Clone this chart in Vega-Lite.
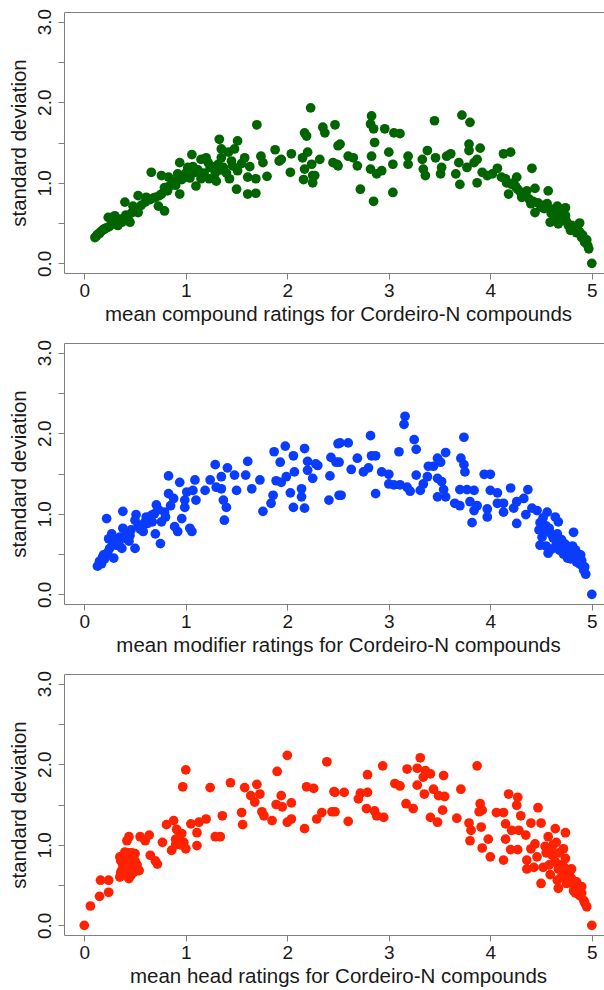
{
  "$schema": "https://vega.github.io/schema/vega-lite/v6.json",
  "padding": {"top": 8, "left": 8, "right": 0, "bottom": 5},
  "spacing": 70,
  "bounds": "flush",
  "config": {
    "view": {"stroke": null},
    "font": "Liberation Sans",
    "axis": {"grid": false, "domainColor": "#808080", "tickColor": "#808080", "tickSize": 6, "labelFontSize": 19, "titleFontSize": 20.5, "titleFontWeight": "normal", "labelColor": "#1a1a1a", "titleColor": "#1a1a1a", "labelFont": "Liberation Sans", "titleFont": "Liberation Sans"}
  },
  "datasets": {
    "p1": [
      {"m":0.105,"s":0.32},{"m":0.13,"s":0.36},{"m":0.16,"s":0.39},{"m":0.19,"s":0.42},{"m":0.22,"s":0.44},{"m":0.236,"s":0.57},{"m":0.30,"s":0.59},{"m":0.37,"s":0.51},{"m":0.45,"s":0.51},{"m":0.33,"s":0.47},{"m":0.27,"s":0.49},{"m":0.40,"s":0.76},{"m":0.48,"s":0.71},{"m":0.53,"s":0.84},{"m":0.53,"s":0.63},{"m":0.61,"s":0.82},{"m":0.70,"s":0.82},{"m":0.73,"s":0.71},{"m":0.79,"s":0.65},{"m":0.76,"s":0.86},{"m":0.66,"s":1.13},{"m":0.76,"s":1.09},{"m":0.83,"s":1.07},{"m":0.79,"s":0.94},{"m":0.94,"s":0.86},{"m":0.88,"s":1.02},{"m":0.94,"s":1.25},{"m":0.92,"s":1.11},{"m":0.99,"s":1.07},{"m":1.06,"s":1.35},{"m":1.02,"s":1.19},{"m":1.09,"s":1.13},{"m":1.10,"s":0.96},{"m":1.15,"s":1.29},{"m":1.20,"s":1.31},{"m":1.23,"s":1.05},{"m":1.24,"s":1.19},{"m":1.30,"s":1.02},{"m":1.32,"s":1.23},{"m":1.37,"s":1.19},{"m":1.35,"s":1.31},{"m":1.33,"s":1.54},{"m":1.35,"s":1.42},{"m":1.42,"s":1.38},{"m":1.45,"s":1.27},{"m":1.51,"s":1.52},{"m":1.48,"s":1.42},{"m":1.43,"s":1.05},{"m":1.50,"s":0.92},{"m":1.51,"s":1.15},{"m":1.58,"s":1.31},{"m":1.61,"s":1.07},{"m":1.69,"s":1.05},{"m":1.61,"s":0.86},{"m":1.69,"s":0.87},{"m":1.70,"s":1.72},{"m":1.74,"s":1.33},{"m":1.76,"s":1.25},{"m":1.80,"s":1.08},{"m":1.88,"s":1.41},{"m":1.94,"s":1.29},{"m":1.92,"s":1.27},{"m":2.04,"s":1.36},{"m":2.03,"s":1.13},{"m":2.15,"s":1.31},{"m":2.17,"s":1.62},{"m":2.19,"s":1.58},{"m":2.23,"s":1.93},{"m":2.20,"s":1.38},{"m":2.24,"s":1.23},{"m":2.17,"s":1.17},{"m":2.25,"s":1.09},{"m":2.16,"s":1.04},{"m":2.25,"s":1.00},{"m":2.27,"s":1.09},{"m":2.32,"s":1.29},{"m":2.35,"s":1.69},{"m":2.37,"s":1.62},{"m":2.47,"s":1.72},{"m":2.45,"s":1.25},{"m":2.50,"s":1.46},{"m":2.50,"s":1.21},
      {"m":0.12,"s":0.34},{"m":0.15,"s":0.37},{"m":0.18,"s":0.41},{"m":0.2,"s":0.43},{"m":0.25,"s":0.46},{"m":0.28,"s":0.5},{"m":0.31,"s":0.53},{"m":0.35,"s":0.55},{"m":0.41,"s":0.6},{"m":0.43,"s":0.56},{"m":0.47,"s":0.63},{"m":0.56,"s":0.72},{"m":0.6,"s":0.76},{"m":0.64,"s":0.79},{"m":0.68,"s":0.81},{"m":0.74,"s":0.84},{"m":0.84,"s":0.96},{"m":0.87,"s":1.0},{"m":0.96,"s":1.04},{"m":1.0,"s":1.12},{"m":1.04,"s":1.06},{"m":1.12,"s":1.16},{"m":1.18,"s":1.12},{"m":1.26,"s":1.2},{"m":1.29,"s":1.12},{"m":1.34,"s":1.16},{"m":1.4,"s":1.12},{"m":1.46,"s":1.21},{"m":1.55,"s":1.24},{"m":1.63,"s":1.2},{"m":0.82,"s":0.9},{"m":0.9,"s":0.97},{"m":1.07,"s":1.2},{"m":1.15,"s":1.05},{"m":1.22,"s":1.25},
      {"m":2.52,"s":1.48},{"m":2.49,"s":1.23},{"m":2.60,"s":1.33},{"m":2.65,"s":1.31},{"m":2.69,"s":1.21},{"m":2.72,"s":0.92},{"m":2.83,"s":1.83},{"m":2.82,"s":1.73},{"m":2.85,"s":1.67},{"m":2.86,"s":1.50},{"m":2.83,"s":1.33},{"m":2.82,"s":1.17},{"m":2.88,"s":1.11},{"m":2.93,"s":1.15},{"m":2.85,"s":0.77},{"m":2.96,"s":1.67},{"m":3.05,"s":1.62},{"m":3.11,"s":1.61},{"m":3.00,"s":1.38},{"m":3.04,"s":1.23},{"m":3.04,"s":0.88},{"m":3.19,"s":1.33},{"m":3.19,"s":1.23},{"m":3.33,"s":1.29},{"m":3.34,"s":1.17},{"m":3.36,"s":1.09},{"m":3.38,"s":1.40},{"m":3.45,"s":1.77},{"m":3.46,"s":1.31},{"m":3.51,"s":1.11},{"m":3.52,"s":1.19},{"m":3.57,"s":1.33},{"m":3.61,"s":1.36},{"m":3.66,"s":1.11},{"m":3.69,"s":1.25},{"m":3.70,"s":0.98},{"m":3.72,"s":1.84},{"m":3.80,"s":1.75},{"m":3.79,"s":1.48},{"m":3.79,"s":1.40},{"m":3.77,"s":1.19},{"m":3.84,"s":1.25},{"m":3.87,"s":1.29},{"m":3.90,"s":1.43},{"m":3.87,"s":1.00},{"m":3.92,"s":1.13},{"m":3.97,"s":1.09},{"m":4.02,"s":1.11},{"m":4.07,"s":1.18},{"m":4.13,"s":1.36},{"m":4.20,"s":1.38},{"m":4.11,"s":1.07},{"m":4.16,"s":1.00},{"m":4.18,"s":0.86},{"m":4.21,"s":0.98},{"m":4.26,"s":1.07},{"m":4.27,"s":0.92},{"m":4.31,"s":0.82},{"m":4.36,"s":0.90},{"m":4.41,"s":1.18},{"m":4.44,"s":0.93},{"m":4.40,"s":0.74},{"m":4.44,"s":0.63},{"m":4.57,"s":0.90},{"m":4.56,"s":0.74},{"m":4.61,"s":0.67},{"m":4.66,"s":0.71},{"m":4.74,"s":0.69},{"m":4.59,"s":0.51},{"m":4.67,"s":0.49},{"m":4.74,"s":0.59},{"m":4.77,"s":0.47},{"m":4.82,"s":0.43},{"m":4.88,"s":0.50},{"m":4.85,"s":0.38},{"m":4.90,"s":0.32},{"m":4.93,"s":0.26},{"m":4.97,"s":0.18},{"m":5.00,"s":0.00},
      {"m":4.15,"s":1.05},{"m":4.23,"s":1.0},{"m":4.25,"s":0.95},{"m":4.3,"s":0.88},{"m":4.33,"s":0.85},{"m":4.38,"s":0.8},{"m":4.42,"s":0.77},{"m":4.47,"s":0.75},{"m":4.5,"s":0.7},{"m":4.53,"s":0.68},{"m":4.6,"s":0.62},{"m":4.63,"s":0.6},{"m":4.68,"s":0.58},{"m":4.71,"s":0.55},{"m":4.75,"s":0.52},{"m":4.8,"s":0.47},{"m":4.83,"s":0.46},{"m":4.86,"s":0.42},{"m":4.88,"s":0.39},{"m":4.91,"s":0.35},{"m":4.95,"s":0.29},{"m":4.96,"s":0.22},{"m":4.7,"s":0.62},{"m":4.64,"s":0.55},{"m":4.52,"s":0.72},{"m":4.79,"s":0.41}
    ],
    "p2": [
      {"m":0.13,"s":0.35},{"m":0.17,"s":0.38},{"m":0.20,"s":0.44},{"m":0.19,"s":0.49},{"m":0.29,"s":0.45},{"m":0.22,"s":0.94},{"m":0.24,"s":0.69},{"m":0.27,"s":0.75},{"m":0.25,"s":0.57},{"m":0.32,"s":0.61},{"m":0.37,"s":0.57},{"m":0.38,"s":0.82},{"m":0.42,"s":0.69},{"m":0.45,"s":0.73},{"m":0.50,"s":0.57},{"m":0.38,"s":1.03},{"m":0.51,"s":0.99},{"m":0.50,"s":0.92},{"m":0.56,"s":0.86},{"m":0.58,"s":0.78},{"m":0.61,"s":0.96},{"m":0.66,"s":0.98},{"m":0.71,"s":1.11},{"m":0.70,"s":0.75},{"m":0.76,"s":0.90},{"m":0.75,"s":0.63},{"m":0.79,"s":1.02},{"m":0.83,"s":1.25},{"m":0.83,"s":1.47},{"m":0.88,"s":1.19},{"m":0.89,"s":0.84},{"m":0.92,"s":0.78},{"m":0.94,"s":1.39},{"m":0.96,"s":0.94},{"m":0.99,"s":1.08},{"m":0.99,"s":1.17},{"m":1.04,"s":0.82},{"m":1.06,"s":0.78},{"m":1.01,"s":1.27},{"m":1.07,"s":1.29},{"m":1.09,"s":1.42},{"m":1.10,"s":1.17},{"m":1.19,"s":1.29},{"m":1.24,"s":1.42},{"m":1.29,"s":1.61},{"m":1.30,"s":1.33},{"m":1.35,"s":1.46},{"m":1.35,"s":1.31},{"m":1.37,"s":1.17},{"m":1.40,"s":1.08},{"m":1.38,"s":0.92},{"m":1.41,"s":1.57},{"m":1.48,"s":1.48},{"m":1.50,"s":1.29},{"m":1.59,"s":1.48},{"m":1.61,"s":1.65},{"m":1.65,"s":1.31},{"m":1.73,"s":1.42},{"m":1.76,"s":1.03},{"m":1.84,"s":1.13},{"m":1.86,"s":1.23},{"m":1.87,"s":1.77},{"m":1.93,"s":1.64},{"m":1.89,"s":1.41},{"m":1.94,"s":1.39},{"m":1.98,"s":1.84},{"m":1.99,"s":1.46},{"m":2.06,"s":1.72},{"m":2.07,"s":1.52},{"m":2.03,"s":1.26},{"m":2.06,"s":1.08},{"m":2.14,"s":1.31},{"m":2.14,"s":1.21},{"m":2.17,"s":1.07},{"m":2.17,"s":1.81},{"m":2.20,"s":1.65},{"m":2.20,"s":1.54},{"m":2.25,"s":1.44},{"m":2.30,"s":1.60},{"m":2.28,"s":1.62},{"m":2.41,"s":1.17},{"m":2.42,"s":1.47},{"m":2.43,"s":1.70},{"m":2.50,"s":1.87},{"m":2.48,"s":1.64},{"m":2.51,"s":1.23},
      {"m":0.15,"s":0.41},{"m":0.18,"s":0.46},{"m":0.23,"s":0.52},{"m":0.28,"s":0.62},{"m":0.31,"s":0.66},{"m":0.35,"s":0.71},{"m":0.41,"s":0.76},{"m":0.46,"s":0.8},{"m":0.53,"s":0.85},{"m":0.55,"s":0.81},{"m":0.6,"s":0.9},{"m":0.64,"s":0.94},{"m":0.69,"s":1.0},{"m":0.73,"s":1.05},{"m":0.8,"s":0.96},{"m":0.85,"s":1.1},{"m":0.34,"s":0.64},{"m":0.44,"s":0.66},{"m":0.62,"s":0.88},{"m":0.67,"s":0.9},
      {"m":2.51,"s":1.64},{"m":2.52,"s":1.88},{"m":2.60,"s":1.88},{"m":2.53,"s":1.23},{"m":2.63,"s":1.55},{"m":2.69,"s":1.69},{"m":2.75,"s":1.52},{"m":2.80,"s":1.57},{"m":2.82,"s":1.97},{"m":2.83,"s":1.72},{"m":2.87,"s":1.72},{"m":2.87,"s":1.25},{"m":2.93,"s":1.52},{"m":3.00,"s":1.49},{"m":3.00,"s":1.37},{"m":3.05,"s":1.36},{"m":3.10,"s":1.77},{"m":3.11,"s":1.36},{"m":3.16,"s":2.21},{"m":3.15,"s":2.11},{"m":3.18,"s":1.33},{"m":3.21,"s":1.28},{"m":3.25,"s":1.92},{"m":3.27,"s":1.80},{"m":3.27,"s":1.48},{"m":3.31,"s":1.29},{"m":3.34,"s":1.37},{"m":3.38,"s":1.46},{"m":3.39,"s":1.59},{"m":3.44,"s":1.59},{"m":3.48,"s":1.69},{"m":3.51,"s":1.64},{"m":3.48,"s":1.44},{"m":3.52,"s":1.40},{"m":3.56,"s":1.76},{"m":3.54,"s":1.30},{"m":3.48,"s":1.21},{"m":3.56,"s":1.21},{"m":3.65,"s":1.13},{"m":3.70,"s":1.10},{"m":3.70,"s":1.30},{"m":3.71,"s":1.69},{"m":3.74,"s":1.95},{"m":3.74,"s":1.61},{"m":3.75,"s":1.52},{"m":3.77,"s":1.30},{"m":3.84,"s":1.29},{"m":3.80,"s":1.15},{"m":3.84,"s":1.04},{"m":3.87,"s":1.10},{"m":3.82,"s":0.89},{"m":3.94,"s":1.49},{"m":4.00,"s":1.49},{"m":3.97,"s":1.06},{"m":3.97,"s":0.96},{"m":4.00,"s":1.29},{"m":4.07,"s":1.26},{"m":4.07,"s":1.13},{"m":4.13,"s":1.02},{"m":4.13,"s":1.13},{"m":4.20,"s":1.32},{"m":4.23,"s":1.07},{"m":4.26,"s":1.15},{"m":4.26,"s":0.88},{"m":4.33,"s":1.19},{"m":4.37,"s":1.30},{"m":4.35,"s":0.99},{"m":4.41,"s":1.07},{"m":4.46,"s":1.04},{"m":4.49,"s":0.89},{"m":4.48,"s":0.80},{"m":4.51,"s":0.71},{"m":4.49,"s":0.61},{"m":4.56,"s":1.02},{"m":4.58,"s":0.82},{"m":4.57,"s":0.51},{"m":4.64,"s":0.96},{"m":4.67,"s":0.90},{"m":4.66,"s":0.75},{"m":4.71,"s":0.65},{"m":4.68,"s":0.55},{"m":4.77,"s":0.55},{"m":4.82,"s":0.77},{"m":4.84,"s":0.49},{"m":4.89,"s":0.49},{"m":4.79,"s":0.44},{"m":4.85,"s":0.40},{"m":4.90,"s":0.36},{"m":4.92,"s":0.30},{"m":4.94,"s":0.25},{"m":5.00,"s":0.00},
      {"m":4.55,"s":0.6},{"m":4.6,"s":0.56},{"m":4.62,"s":0.7},{"m":4.65,"s":0.62},{"m":4.7,"s":0.58},{"m":4.72,"s":0.5},{"m":4.75,"s":0.6},{"m":4.78,"s":0.48},{"m":4.8,"s":0.55},{"m":4.82,"s":0.45},{"m":4.86,"s":0.5},{"m":4.87,"s":0.44},{"m":4.9,"s":0.42},{"m":4.88,"s":0.38},{"m":4.93,"s":0.34},{"m":4.7,"s":0.68},{"m":4.6,"s":0.75},{"m":4.55,"s":0.85},{"m":4.52,"s":0.95},{"m":4.74,"s":0.62},{"m":4.81,"s":0.6},{"m":4.84,"s":0.55},{"m":4.66,"s":0.65},{"m":4.53,"s":0.78},{"m":4.76,"s":0.45}
    ],
    "p3": [
      {"m":0,"s":0},{"m":0.06,"s":0.24},{"m":0.15,"s":0.36},{"m":0.16,"s":0.56},{"m":0.24,"s":0.56},{"m":0.24,"s":0.41},{"m":0.35,"s":0.85},{"m":0.37,"s":0.68},{"m":0.35,"s":0.60},{"m":0.40,"s":0.91},{"m":0.42,"s":1.05},{"m":0.44,"s":1.10},{"m":0.39,"s":0.72},{"m":0.44,"s":0.58},{"m":0.45,"s":0.76},{"m":0.49,"s":0.66},{"m":0.50,"s":0.89},{"m":0.54,"s":0.68},{"m":0.55,"s":1.10},{"m":0.60,"s":1.05},{"m":0.64,"s":1.12},{"m":0.65,"s":0.87},{"m":0.72,"s":0.76},{"m":0.70,"s":0.80},{"m":0.77,"s":1.03},{"m":0.81,"s":1.25},{"m":0.88,"s":1.30},{"m":0.86,"s":0.93},{"m":0.90,"s":1.07},{"m":0.91,"s":1.19},{"m":0.96,"s":1.14},{"m":0.98,"s":1.03},{"m":1.00,"s":0.95},{"m":0.97,"s":1.72},{"m":1.00,"s":1.93},{"m":1.05,"s":1.26},{"m":1.11,"s":1.15},{"m":1.11,"s":0.99},{"m":1.13,"s":1.28},{"m":1.20,"s":1.32},{"m":1.24,"s":1.71},{"m":1.29,"s":1.10},{"m":1.34,"s":1.10},{"m":1.36,"s":1.36},{"m":1.44,"s":1.77},{"m":1.55,"s":1.40},{"m":1.56,"s":1.25},{"m":1.58,"s":1.71},{"m":1.64,"s":1.61},{"m":1.70,"s":1.75},{"m":1.73,"s":1.63},{"m":1.68,"s":1.53},{"m":1.75,"s":1.41},{"m":1.77,"s":1.36},{"m":1.85,"s":1.30},{"m":1.90,"s":1.91},{"m":1.89,"s":1.50},{"m":1.94,"s":1.61},{"m":1.95,"s":1.47},{"m":2.00,"s":2.11},{"m":2.04,"s":1.52},{"m":2.00,"s":1.28},{"m":2.04,"s":1.32},{"m":2.17,"s":1.20},{"m":2.19,"s":1.72},{"m":2.26,"s":1.70},{"m":2.29,"s":1.32},{"m":2.34,"s":1.40},{"m":2.39,"s":2.03},{"m":2.44,"s":1.41},{"m":2.46,"s":1.66},
      {"m":0.36,"s":0.8},{"m":0.38,"s":0.75},{"m":0.4,"s":0.7},{"m":0.42,"s":0.65},{"m":0.41,"s":0.8},{"m":0.43,"s":0.85},{"m":0.45,"s":0.7},{"m":0.46,"s":0.62},{"m":0.47,"s":0.78},{"m":0.48,"s":0.72},{"m":0.38,"s":0.64},{"m":0.36,"s":0.66},{"m":0.5,"s":0.8},{"m":0.52,"s":0.75},{"m":0.44,"s":0.9},{"m":0.47,"s":0.9},{"m":0.43,"s":0.6},{"m":0.9,"s":1.0},{"m":0.95,"s":1.0},{"m":0.93,"s":1.08},
      {"m":2.47,"s":1.65},{"m":2.56,"s":1.65},{"m":2.47,"s":1.41},{"m":2.60,"s":1.29},{"m":2.72,"s":1.64},{"m":2.79,"s":1.65},{"m":2.70,"s":1.57},{"m":2.79,"s":1.87},{"m":2.78,"s":1.45},{"m":2.86,"s":1.42},{"m":2.94,"s":1.98},{"m":2.88,"s":1.36},{"m":2.95,"s":1.34},{"m":3.06,"s":1.76},{"m":3.11,"s":1.73},{"m":3.18,"s":1.94},{"m":3.17,"s":1.51},{"m":3.24,"s":1.45},{"m":3.28,"s":1.95},{"m":3.31,"s":2.08},{"m":3.36,"s":1.92},{"m":3.41,"s":1.88},{"m":3.34,"s":1.84},{"m":3.28,"s":1.74},{"m":3.35,"s":1.63},{"m":3.44,"s":1.69},{"m":3.54,"s":1.86},{"m":3.49,"s":1.61},{"m":3.55,"s":1.60},{"m":3.53,"s":1.43},{"m":3.41,"s":1.34},{"m":3.48,"s":1.28},{"m":3.67,"s":1.33},{"m":3.71,"s":1.69},{"m":3.87,"s":1.98},{"m":3.79,"s":1.27},{"m":3.81,"s":1.18},{"m":3.80,"s":1.05},{"m":3.90,"s":1.51},{"m":3.92,"s":1.43},{"m":3.89,"s":1.41},{"m":3.91,"s":1.22},{"m":3.92,"s":0.96},{"m":3.98,"s":1.07},{"m":4.00,"s":0.85},{"m":4.06,"s":1.40},{"m":4.13,"s":1.40},{"m":4.18,"s":1.63},{"m":4.27,"s":1.59},{"m":4.26,"s":1.49},{"m":4.15,"s":1.26},{"m":4.21,"s":1.18},{"m":4.15,"s":1.07},{"m":4.20,"s":0.94},{"m":4.13,"s":0.81},{"m":4.27,"s":0.94},{"m":4.30,"s":1.36},{"m":4.28,"s":1.18},{"m":4.35,"s":1.12},{"m":4.40,"s":1.27},{"m":4.47,"s":1.46},{"m":4.50,"s":1.27},{"m":4.44,"s":1.01},{"m":4.40,"s":0.95},{"m":4.36,"s":0.81},{"m":4.36,"s":0.70},{"m":4.43,"s":0.72},{"m":4.52,"s":0.72},{"m":4.50,"s":0.52},{"m":4.46,"s":0.85},{"m":4.57,"s":1.10},{"m":4.64,"s":1.20},{"m":4.65,"s":1.03},{"m":4.74,"s":1.15},{"m":4.54,"s":0.98},{"m":4.61,"s":0.87},{"m":4.64,"s":0.79},{"m":4.59,"s":0.63},{"m":4.67,"s":0.70},{"m":4.74,"s":0.83},{"m":4.72,"s":0.62},{"m":4.77,"s":0.68},{"m":4.67,"s":0.46},{"m":4.75,"s":0.52},{"m":4.80,"s":0.58},{"m":4.85,"s":0.54},{"m":4.90,"s":0.48},{"m":4.82,"s":0.43},{"m":4.88,"s":0.37},{"m":4.92,"s":0.31},{"m":4.95,"s":0.23},{"m":5.00,"s":0.00},
      {"m":4.6,"s":0.95},{"m":4.62,"s":1.0},{"m":4.68,"s":0.9},{"m":4.7,"s":0.75},{"m":4.73,"s":0.72},{"m":4.78,"s":0.63},{"m":4.7,"s":0.6},{"m":4.76,"s":0.57},{"m":4.82,"s":0.5},{"m":4.86,"s":0.46},{"m":4.84,"s":0.4},{"m":4.9,"s":0.4},{"m":4.93,"s":0.28},{"m":4.55,"s":0.9},{"m":4.66,"s":0.56},{"m":4.8,"s":0.7},{"m":4.72,"s":0.95},{"m":4.58,"s":0.75}
    ]
  },
  "vconcat": [
    {
      "width": 540, "height": 261,
      "data": {"name": "p1"},
      "layer": [
        {"mark": {"type": "circle", "size": 95, "opacity": 1, "color": "#006400"},
         "encoding": {
           "x": {"field": "m", "type": "quantitative", "scale": {"domain": [-0.2, 5.12], "nice": false, "zero": false}, "axis": {"values": [0,1,2,3,4,5], "labelPadding": 2, "title": "mean compound ratings for Cordeiro-N compounds", "titleX": 274, "titlePadding": 4}},
           "y": {"field": "s", "type": "quantitative", "scale": {"domain": [-0.12, 3.12], "nice": false, "zero": false}, "axis": {"values": [0,0.5,1,1.5,2,2.5,3], "labelExpr": "datum.value % 1 === 0 ? format(datum.value, '.1f') : ''", "labelAngle": -90, "labelAlign": "center", "labelBaseline": "bottom", "labelPadding": 4, "title": "standard deviation", "titlePadding": 6}}
         }},
        {"mark": {"type": "circle", "opacity": 0},
         "encoding": {"x": {"field": "m", "type": "quantitative", "scale": {"domain": [-0.2, 5.12], "nice": false, "zero": false}, "axis": {"orient": "top", "labels": false, "ticks": false, "title": null, "domain": true}}}}
      ],
      "resolve": {"axis": {"x": "independent"}}
    },
    {
      "width": 540, "height": 261,
      "data": {"name": "p2"},
      "layer": [
        {"mark": {"type": "circle", "size": 95, "opacity": 1, "color": "#0a3cff"},
         "encoding": {
           "x": {"field": "m", "type": "quantitative", "scale": {"domain": [-0.2, 5.12], "nice": false, "zero": false}, "axis": {"values": [0,1,2,3,4,5], "labelPadding": 2, "title": "mean modifier ratings for Cordeiro-N compounds", "titleX": 274, "titlePadding": 4}},
           "y": {"field": "s", "type": "quantitative", "scale": {"domain": [-0.12, 3.12], "nice": false, "zero": false}, "axis": {"values": [0,0.5,1,1.5,2,2.5,3], "labelExpr": "datum.value % 1 === 0 ? format(datum.value, '.1f') : ''", "labelAngle": -90, "labelAlign": "center", "labelBaseline": "bottom", "labelPadding": 4, "title": "standard deviation", "titlePadding": 6}}
         }},
        {"mark": {"type": "circle", "opacity": 0},
         "encoding": {"x": {"field": "m", "type": "quantitative", "scale": {"domain": [-0.2, 5.12], "nice": false, "zero": false}, "axis": {"orient": "top", "labels": false, "ticks": false, "title": null, "domain": true}}}}
      ],
      "resolve": {"axis": {"x": "independent"}}
    },
    {
      "width": 540, "height": 261,
      "data": {"name": "p3"},
      "layer": [
        {"mark": {"type": "circle", "size": 95, "opacity": 1, "color": "#ff2200"},
         "encoding": {
           "x": {"field": "m", "type": "quantitative", "scale": {"domain": [-0.2, 5.12], "nice": false, "zero": false}, "axis": {"values": [0,1,2,3,4,5], "labelPadding": 2, "title": "mean head ratings for Cordeiro-N compounds", "titleX": 274, "titlePadding": 4}},
           "y": {"field": "s", "type": "quantitative", "scale": {"domain": [-0.12, 3.12], "nice": false, "zero": false}, "axis": {"values": [0,0.5,1,1.5,2,2.5,3], "labelExpr": "datum.value % 1 === 0 ? format(datum.value, '.1f') : ''", "labelAngle": -90, "labelAlign": "center", "labelBaseline": "bottom", "labelPadding": 4, "title": "standard deviation", "titlePadding": 6}}
         }},
        {"mark": {"type": "circle", "opacity": 0},
         "encoding": {"x": {"field": "m", "type": "quantitative", "scale": {"domain": [-0.2, 5.12], "nice": false, "zero": false}, "axis": {"orient": "top", "labels": false, "ticks": false, "title": null, "domain": true}}}}
      ],
      "resolve": {"axis": {"x": "independent"}}
    }
  ]
}
